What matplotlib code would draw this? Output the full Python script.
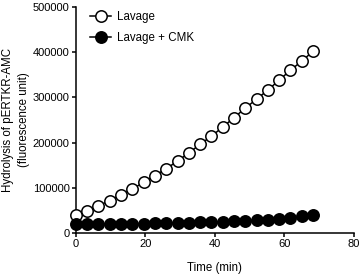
import matplotlib
matplotlib.use("Agg")
import matplotlib.pyplot as plt

plt.rcParams['font.family'] = ['Liberation Sans', 'DejaVu Sans']

time_min = [0, 3.25, 6.5, 9.75, 13, 16.25, 19.5, 22.75, 26, 29.25, 32.5,
            35.75, 39, 42.25, 45.5, 48.75, 52, 55.25, 58.5, 61.75, 65, 68.25]
lavage = [40000, 49500, 60000, 71500, 84000, 97000, 112000, 127000, 142000,
          159000, 177000, 196000, 214000, 234000, 255000, 276000, 296000,
          316000, 338000, 360000, 380000, 402000]
lavage_cmk = [20000, 19600, 19800, 20000, 20200, 20500, 20800, 21200, 21700,
              22300, 22900, 23500, 24300, 25000, 26000, 27000, 28000, 29200,
              30500, 32500, 36500, 39500]
labels = ["Lavage", "Lavage + CMK"]
xticks = [0, 20, 40, 60, 80]
yticks = [0, 100000, 200000, 300000, 400000, 500000]

fig = plt.figure(figsize=(3.63, 2.75), dpi=100)
ax = fig.add_axes([0.209, 0.153, 0.766, 0.822])

ax.plot(time_min, lavage, '-o', color='black', mfc='white', mec='black',
        ms=8.2, mew=1.1, lw=1.1, label=labels[0], clip_on=False, zorder=3)
ax.plot(time_min, lavage_cmk, '-o', color='black', mfc='black', mec='black',
        ms=8.2, mew=1.1, lw=1.1, label=labels[1], clip_on=False, zorder=3)

ax.set_xlim(0, 80)
ax.set_ylim(0, 500000)
ax.set_xticks(xticks)
ax.set_yticks(yticks)
ax.set_yticklabels([str(v) for v in yticks])
for s in ['top', 'right']:
    ax.spines[s].set_visible(False)
for s in ['left', 'bottom']:
    ax.spines[s].set_linewidth(1.1)
ax.tick_params(direction='out', length=3, width=1.1, labelsize=8, pad=1.5)

ax.set_xlabel("Time (min)", fontsize=8.3, labelpad=9)
ax.set_ylabel("Hydrolysis of pERTKR-AMC\n(fluorescence unit)", fontsize=8.3,
              linespacing=1.4, labelpad=2)

ax.legend(loc='upper left', bbox_to_anchor=(0.035, 1.0), frameon=False,
          fontsize=8.3, handlelength=1.8, handletextpad=0.5, labelspacing=0.75,
          borderaxespad=0)

fig.savefig("out.png", dpi=100)
